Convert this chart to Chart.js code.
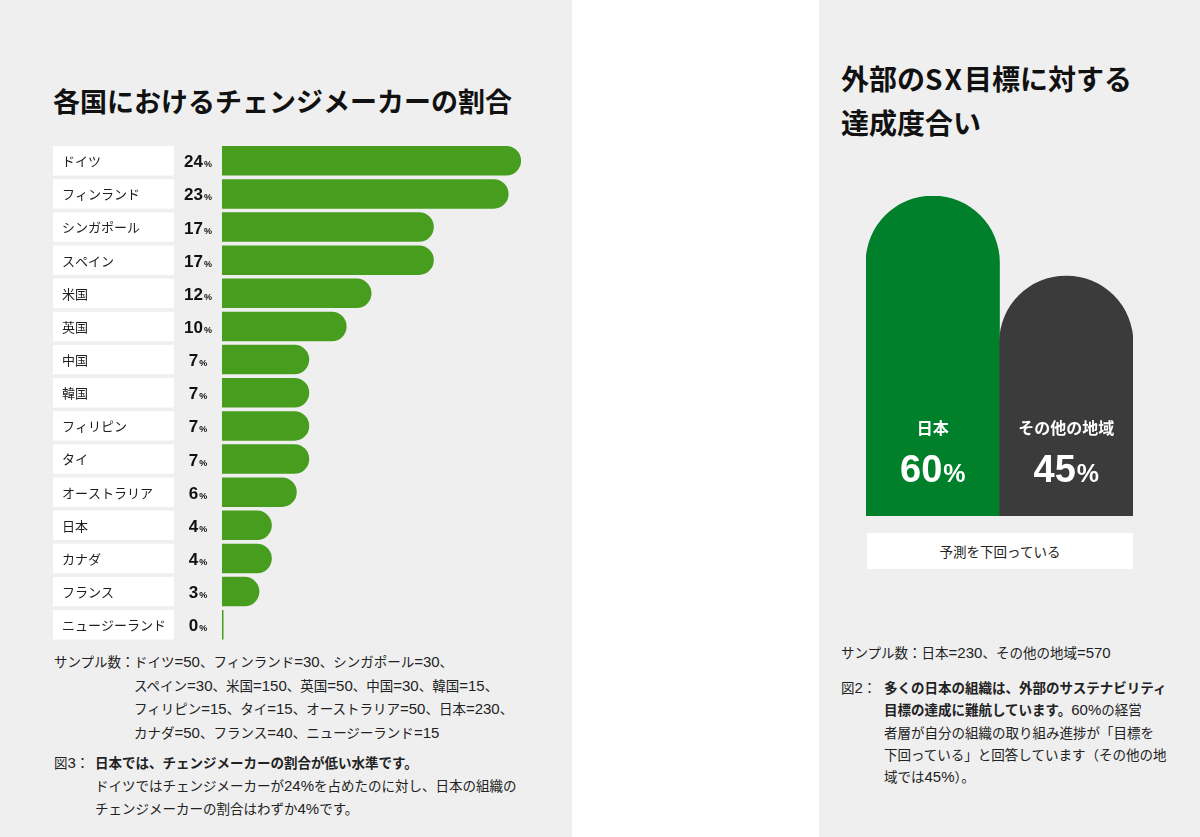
<!DOCTYPE html>
<html><head><meta charset="utf-8">
<script src="https://cdn.jsdelivr.net/npm/chart.js@4.4.1/dist/chart.umd.min.js"></script>
<style>
html,body{margin:0;padding:0;width:1200px;height:837px;overflow:hidden;background:#efefef;
  font-family:"Noto Sans CJK JP","Noto Sans",sans-serif;color:#1e1e1e}
#gap{position:absolute;left:572px;top:0;width:247px;height:837px;background:#fff}
.t{position:absolute;white-space:nowrap}
.title{font-weight:700;color:#111}
.fn{font-size:13.5px;line-height:22.5px;color:#222}
.fn .n{font-family:"Liberation Sans",sans-serif;font-size:15px}
.b{font-weight:700}
canvas{position:absolute}
#note{position:absolute;left:867px;top:533px;width:266px;height:36px;background:#fff;
  font-size:13.5px;line-height:36px;text-align:center;color:#222}
</style></head><body>
<div id="gap"></div>

<div class="t title" style="left:53px;top:82px;font-size:27px;line-height:38px">各国におけるチェンジメーカーの割合</div>
<div class="t title" style="left:841px;top:56px;font-size:28px;line-height:44px">外部の<span style="letter-spacing:2px">SX</span>目標に対する<br>達成度合い</div>

<canvas id="left" width="570" height="520" style="left:0;top:130px;width:570px;height:520px"></canvas>
<canvas id="right" width="380" height="340" style="left:820px;top:180px;width:380px;height:340px"></canvas>
<div id="note">予測を下回っている</div>

<div class="t fn" style="left:54px;top:650px">サンプル数：</div>
<div class="t fn" style="left:134px;top:650px">ドイツ=50、フィンランド=30、シンガポール=30、<br>スペイン=30、米国=150、英国=50、中国=30、韓国=15、<br>フィリピン=15、タイ=15、オーストラリア=50、日本=230、<br>カナダ=50、フランス=40、ニュージーランド=15</div>
<div class="t fn" style="left:54px;top:751px">図3：</div>
<div class="t fn" style="left:95px;top:751px"><span class="b">日本では、チェンジメーカーの割合が低い水準です。</span><br>ドイツではチェンジメーカーが24%を占めたのに対し、日本の組織の<br>チェンジメーカーの割合はわずか4%です。</div>

<div class="t fn" style="left:841px;top:641px">サンプル数：日本=230、その他の地域=570</div>
<div class="t fn" style="left:841px;top:676px;line-height:22px">図2：</div>
<div class="t fn" style="left:884px;top:676px;line-height:22px"><span class="b">多くの日本の組織は、外部のサステナビリティ<br>目標の達成に難航しています。</span>60%の経営<br>者層が自分の組織の取り組み進捗が「目標を<br>下回っている」と回答しています（その他の地<br>域では45%）。</div>

<script>
// ---- data ----
const countries = ['ドイツ','フィンランド','シンガポール','スペイン','米国','英国','中国','韓国','フィリピン','タイ','オーストラリア','日本','カナダ','フランス','ニュージーランド'];
const changemakerShare = [24,23,17,17,12,10,7,7,7,7,6,4,4,3,0];
const regions = ['日本','その他の地域'];
const belowTargetShare = [60,45];

// enlarge Latin/digit runs in footnotes (text nodes only)
document.querySelectorAll('.fn').forEach(el=>{
  const walker = document.createTreeWalker(el, NodeFilter.SHOW_TEXT);
  const nodes = []; while (walker.nextNode()) nodes.push(walker.currentNode);
  nodes.forEach(tn=>{
    const parts = tn.nodeValue.split(/([0-9=%]+)/);
    if (parts.length < 2) return;
    const frag = document.createDocumentFragment();
    parts.forEach((p,k)=>{
      if (!p) return;
      if (k % 2 === 1){ const s = document.createElement('span'); s.className='n'; s.textContent=p; frag.appendChild(s); }
      else frag.appendChild(document.createTextNode(p));
    });
    tn.parentNode.replaceChild(frag, tn);
  });
});

const FONT = '"Noto Sans CJK JP","Noto Sans",sans-serif';
const NUMFONT = '"Liberation Sans","Noto Sans",sans-serif';
const LEFT_GREEN = '#479d1e';

const rowLabels = {
  id:'rowLabels',
  afterDatasetsDraw(chart){
    const ctx = chart.ctx;
    const meta = chart.getDatasetMeta(0);
    const ys = chart.scales.y;
    ctx.save();
    meta.data.forEach((el,i)=>{
      const y = ys.getPixelForValue(i);
      const h = el.height;
      ctx.fillStyle = '#ffffff';
      ctx.fillRect(53, y-h/2, 121, h);
      ctx.fillStyle = '#1e1e1e';
      ctx.font = '13px '+FONT;
      ctx.textAlign = 'left';
      ctx.textBaseline = 'middle';
      ctx.fillText(chart.data.labels[i], 62, y+0.5);
      const v = String(chart.data.datasets[0].data[i]);
      ctx.textBaseline = 'alphabetic';
      ctx.font = 'bold 17px '+NUMFONT;
      const w1 = ctx.measureText(v).width;
      ctx.font = 'bold 9px '+NUMFONT;
      const w2 = ctx.measureText('%').width;
      const x0 = 198 - (w1+w2+1)/2;
      ctx.fillStyle = '#111';
      ctx.font = 'bold 17px '+NUMFONT;
      ctx.fillText(v, x0, y+6.5);
      ctx.font = 'bold 9px '+NUMFONT;
      ctx.fillText('%', x0+w1+1, y+6.5);
      if (chart.data.datasets[0].data[i] === 0){
        ctx.strokeStyle = LEFT_GREEN;
        ctx.lineWidth = 1.5;
        ctx.beginPath();
        ctx.moveTo(el.base+0.75, y-h/2);
        ctx.lineTo(el.base+0.75, y+h/2);
        ctx.stroke();
      }
    });
    ctx.restore();
  }
};

new Chart(document.getElementById('left'), {
  type:'bar',
  data:{labels:countries, datasets:[{data:changemakerShare, backgroundColor:LEFT_GREEN,
    borderRadius:20, borderSkipped:'start', barPercentage:0.89, categoryPercentage:1}]},
  options:{
    indexAxis:'y', responsive:false, animation:false, devicePixelRatio:1,
    layout:{padding:{left:222, right:36.5, top:14.2, bottom:8.7}},
    scales:{
      x:{display:false, min:0, max:25},
      y:{display:false}
    },
    plugins:{legend:{display:false}, tooltip:{enabled:false}}
  },
  plugins:[rowLabels]
});

const barText = {
  id:'barText',
  afterDatasetsDraw(chart){
    const ctx = chart.ctx;
    const meta = chart.getDatasetMeta(0);
    ctx.save();
    ctx.fillStyle = '#ffffff';
    meta.data.forEach((el,i)=>{
      const x = el.x, base = el.base;
      ctx.textAlign = 'center';
      ctx.textBaseline = 'middle';
      ctx.font = 'bold 16px '+FONT;
      ctx.fillText(chart.data.labels[i], x, base-88);
      const v = String(chart.data.datasets[0].data[i]);
      ctx.textBaseline = 'alphabetic';
      ctx.textAlign = 'left';
      ctx.font = 'bold 38px '+NUMFONT;
      const w1 = ctx.measureText(v).width;
      ctx.font = 'bold 25px '+NUMFONT;
      const w2 = ctx.measureText('%').width;
      const x0 = x - (w1+w2+1)/2;
      ctx.font = 'bold 38px '+NUMFONT;
      ctx.fillText(v, x0, base-34);
      ctx.font = 'bold 25px '+NUMFONT;
      ctx.fillText('%', x0+w1+1, base-34);
    });
    ctx.restore();
  }
};

new Chart(document.getElementById('right'), {
  type:'bar',
  data:{labels:regions, datasets:[{data:belowTargetShare, backgroundColor:['#00802a','#3b3b3b'],
    borderRadius:200, borderSkipped:'start', barPercentage:1, categoryPercentage:1}]},
  options:{
    responsive:false, animation:false, devicePixelRatio:1,
    layout:{padding:{left:46, right:67, top:16, bottom:4}},
    scales:{
      x:{display:false},
      y:{display:false, min:0, max:60}
    },
    plugins:{legend:{display:false}, tooltip:{enabled:false}}
  },
  plugins:[barText]
});
</script>
</body></html>
